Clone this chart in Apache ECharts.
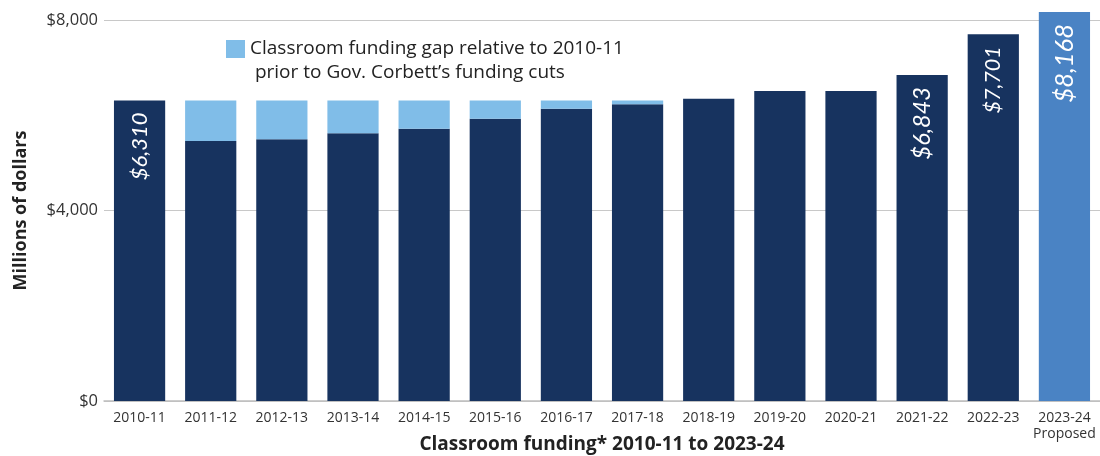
<!DOCTYPE html>
<html>
<head>
<meta charset="utf-8">
<script src="https://cdn.jsdelivr.net/npm/echarts@6/dist/echarts.min.js"></script>
<style>
  html, body { margin: 0; padding: 0; background: #fff; }
  #chart { width: 1100px; height: 456px; }
</style>
</head>
<body>
<div id="chart"></div>
<script>
// School years shown on the category axis
const years = ['2010-11', '2011-12', '2012-13', '2013-14', '2014-15', '2015-16', '2016-17',
               '2017-18', '2018-19', '2019-20', '2020-21', '2021-22', '2022-23', '2023-24'];
// Classroom funding, millions of dollars
const funding = [6310, 5460, 5495, 5621, 5718, 5928, 6138, 6230, 6348, 6510, 6510, 6843, 7701, 8168];
// 2010-11 level, before the funding cuts
const baseline = 6310;
// Years whose gap to the 2010-11 level is drawn
const gapYears = ['2011-12', '2012-13', '2013-14', '2014-15', '2015-16', '2016-17', '2017-18'];
// Years whose bars carry their value, with the label size used for each
const labeledYears = ['2010-11', '2021-22', '2022-23', '2023-24'];
const labelSizes = [22, 23.5, 21.5, 25.5];
const proposedYear = '2023-24';
const yTicks = [0, 4000, 8000];

const DARK = '#17335f';
const GAP = '#80bde8';
const PROPOSED = '#4a83c4';
const FONT = '"Open Sans", Lato, sans-serif';

const gap = years.map((y, i) => gapYears.includes(y) ? baseline - funding[i] : null);

const fundingData = years.map((y, i) => {
  const li = labeledYears.indexOf(y);
  const item = { value: funding[i] };
  if (y === proposedYear) item.itemStyle = { color: PROPOSED };
  item.label = { show: li >= 0, fontSize: li >= 0 ? labelSizes[li] : 20 };
  return item;
});

const chart = echarts.init(document.getElementById('chart'), null, { renderer: 'canvas' });
chart.setOption({
  animation: false,
  textStyle: { fontFamily: FONT },
  grid: { left: 104, right: 0, top: 20, bottom: 55, containLabel: false, outerBoundsMode: 'none' },
  legend: {
    data: ['gap'],
    left: 221, top: 8,
    itemWidth: 19, itemHeight: 18, itemGap: 0,
    icon: 'rect',
    // leading blank line keeps the swatch level with the first line of text
    formatter: () => '\nClassroom funding gap relative to 2010-11\n prior to Gov. Corbett\u2019s funding cuts',
    textStyle: { fontFamily: FONT, fontSize: 19, color: '#222', lineHeight: 24 }
  },
  xAxis: {
    type: 'category',
    data: years,
    axisTick: { show: false },
    axisLine: { lineStyle: { color: '#bdbdbd', width: 1.5 } },
    axisLabel: {
      color: '#333', fontSize: 14, margin: 9, lineHeight: 16, interval: 0,
      formatter: v => v === proposedYear ? v + '\nProposed' : v
    },
    name: 'Classroom funding* 2010-11 to 2023-24',
    nameLocation: 'middle',
    nameGap: 34,
    nameMoveOverlap: false,
    nameTextStyle: { fontSize: 19, fontWeight: 'bold', color: '#222' }
  },
  yAxis: {
    type: 'value',
    min: yTicks[0], max: yTicks[yTicks.length - 1], interval: yTicks[1] - yTicks[0],
    axisLine: { show: false },
    axisTick: { show: false },
    splitLine: { lineStyle: { color: '#c8c8c8', width: 1.2 } },
    axisLabel: {
      color: '#333', fontSize: 16.5, margin: 6,
      formatter: v => '$' + v.toLocaleString('en-US')
    },
    name: 'Millions of dollars',
    nameLocation: 'middle',
    nameGap: 74,
    nameMoveOverlap: false,
    nameTextStyle: { fontSize: 18, fontWeight: 'bold', color: '#222' }
  },
  series: [
    {
      name: 'funding',
      type: 'bar',
      stack: 'total',
      barWidth: '72%',
      clip: false,
      itemStyle: { color: DARK },
      data: fundingData,
      label: {
        position: 'insideTop',
        distance: 12,
        rotate: 90,
        align: 'right',
        verticalAlign: 'middle',
        color: '#fff',
        fontFamily: 'Lato, sans-serif',
        fontStyle: 'italic',
        formatter: p => '$' + p.value.toLocaleString('en-US')
      }
    },
    {
      name: 'gap',
      type: 'bar',
      stack: 'total',
      barWidth: '72%',
      clip: false,
      itemStyle: { color: GAP },
      data: gap
    }
  ]
});
</script>
</body>
</html>
